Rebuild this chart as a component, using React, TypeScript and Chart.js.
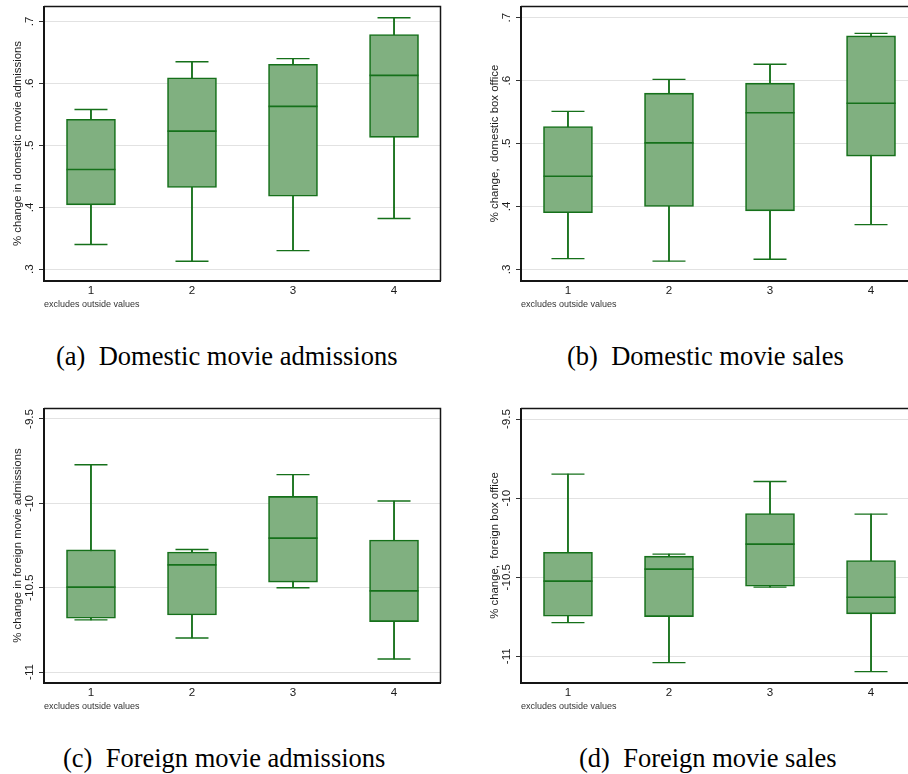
import React, { useEffect, useRef } from "react";
import { Chart, registerables } from "chart.js";

Chart.register(...registerables);

// ---------- data ----------
const categories = [1, 2, 3, 4];

// (a) Domestic movie admissions
const domAdmLow = [0.34, 0.313, 0.33, 0.382];
const domAdmQ1 = [0.404, 0.432, 0.418, 0.513];
const domAdmMed = [0.461, 0.523, 0.563, 0.613];
const domAdmQ3 = [0.542, 0.609, 0.631, 0.679];
const domAdmHigh = [0.558, 0.635, 0.64, 0.706];

// (b) Domestic movie sales
const domSalesLow = [0.317, 0.313, 0.316, 0.371];
const domSalesQ1 = [0.39, 0.4, 0.393, 0.48];
const domSalesMed = [0.448, 0.501, 0.549, 0.564];
const domSalesQ3 = [0.527, 0.58, 0.596, 0.671];
const domSalesHigh = [0.551, 0.602, 0.626, 0.675];

// (c) Foreign movie admissions
const forAdmLow = [-10.691, -10.798, -10.5, -10.923];
const forAdmQ1 = [-10.681, -10.662, -10.467, -10.701];
const forAdmMed = [-10.497, -10.365, -10.206, -10.519];
const forAdmQ3 = [-10.276, -10.289, -9.959, -10.218];
const forAdmHigh = [-9.771, -10.274, -9.83, -9.986];

// (d) Foreign movie sales
const forSalesLow = [-10.787, -11.04, -10.563, -11.097];
const forSalesQ1 = [-10.747, -10.749, -10.557, -10.732];
const forSalesMed = [-10.525, -10.449, -10.291, -10.627];
const forSalesQ3 = [-10.342, -10.367, -10.097, -10.395];
const forSalesHigh = [-9.848, -10.354, -9.895, -10.101];

const domTickValues = [0.3, 0.4, 0.5, 0.6, 0.7];
const domTickLabels = [".3", ".4", ".5", ".6", ".7"];
const forTickValues = [-11, -10.5, -10, -9.5];
const forTickLabels = ["-11", "-10.5", "-10", "-9.5"];

const xNote = "excludes outside values";

// ---------- style ----------
const LINE = "#15701a";
const FILL = "#80b080";
const SANS = "'Liberation Sans', Arial, sans-serif";
const SERIF = "'Liberation Serif', 'Times New Roman', serif";

const framePlugin = {
  id: "frame",
  afterDraw(chart: any) {
    const { ctx, chartArea } = chart;
    const { left, top, right, bottom } = chartArea;
    ctx.save();
    ctx.strokeStyle = "#151515";
    ctx.lineWidth = 1.5;
    ctx.beginPath();
    ctx.moveTo(left, top + 0.5);
    ctx.lineTo(right - 0.5, top + 0.5);
    ctx.lineTo(right - 0.5, bottom);
    ctx.stroke();
    ctx.lineWidth = 2;
    ctx.beginPath();
    ctx.moveTo(left, top);
    ctx.lineTo(left, bottom);
    ctx.lineTo(right, bottom);
    ctx.stroke();
    ctx.restore();
  },
};

type PanelProps = {
  left: number;
  top: number;
  yTitle: string;
  low: number[];
  q1: number[];
  med: number[];
  q3: number[];
  high: number[];
  yMin: number;
  yMax: number;
  tickValues: number[];
  tickLabels: string[];
  tickPad: number;
};

function BoxPanel(p: PanelProps) {
  const ref = useRef<HTMLCanvasElement>(null);
  useEffect(() => {
    if (!ref.current) return;
    const chart = new Chart(ref.current, {
      type: "bar",
      data: {
        datasets: [
          {
            type: "bar",
            label: "whiskers",
            data: categories.map((c, i) => ({ x: c, y: [p.low[i], p.high[i]] })),
            backgroundColor: LINE,
            borderWidth: 0,
            barThickness: 1.2,
            grouped: false,
            order: 4,
          } as any,
          {
            type: "bar",
            label: "boxes",
            data: categories.map((c, i) => ({ x: c, y: [p.q1[i], p.q3[i]] })),
            backgroundColor: FILL,
            borderColor: LINE,
            borderWidth: 1.6,
            borderSkipped: false,
            barThickness: 49,
            grouped: false,
            order: 3,
          } as any,
          {
            type: "line",
            label: "medians",
            data: categories.map((c, i) => ({ x: c, y: p.med[i] })),
            showLine: false,
            pointStyle: "line",
            pointRadius: 24.5,
            pointBorderWidth: 1.6,
            pointBorderColor: LINE,
            pointBackgroundColor: LINE,
            order: 2,
          } as any,
          {
            type: "line",
            label: "caps",
            data: [
              ...categories.map((c, i) => ({ x: c, y: p.high[i] })),
              ...categories.map((c, i) => ({ x: c, y: p.low[i] })),
            ],
            showLine: false,
            pointStyle: "line",
            pointRadius: 16.5,
            pointBorderWidth: 1.4,
            pointBorderColor: LINE,
            pointBackgroundColor: LINE,
            order: 1,
          } as any,
        ],
      },
      options: {
        responsive: false,
        animation: false,
        events: [],
        layout: { autoPadding: false, padding: { top: 6, right: 9, left: 0, bottom: 0 } },
        plugins: { legend: { display: false }, tooltip: { enabled: false } },
        scales: {
          x: {
            type: "linear",
            offset: false,
            min: 0.535,
            max: 4.465,
            afterBuildTicks: (s: any) => {
              s.ticks = categories.map((v) => ({ value: v }));
            },
            ticks: {
              callback: (v: any) => String(v),
              font: { family: SANS, size: 11.6 },
              color: "#1a1a1a",
              padding: 3,
              maxRotation: 0,
              autoSkip: false,
            },
            grid: { display: false, drawTicks: false, offset: false },
            border: { display: false },
            title: {
              display: true,
              text: xNote,
              align: "start",
              font: { family: SANS, size: 9 },
              color: "#333",
              padding: { top: 0, bottom: 10 },
            },
            afterFit: (s: any) => {
              s.height = 39;
              s.paddingLeft = 0;
              s.paddingRight = 0;
            },
          } as any,
          y: {
            type: "linear",
            min: p.yMin,
            max: p.yMax,
            afterBuildTicks: (s: any) => {
              s.ticks = p.tickValues.map((v) => ({ value: v }));
            },
            ticks: {
              callback: (_v: any, i: number) => p.tickLabels[i],
              minRotation: 90,
              maxRotation: 90,
              crossAlign: "center",
              padding: p.tickPad,
              font: { family: SANS, size: 11.6 },
              color: "#1a1a1a",
              autoSkip: false,
            },
            grid: {
              color: "#e2e2e2",
              lineWidth: 1,
              tickLength: 5,
              tickColor: "#333",
              drawTicks: true,
            },
            border: { display: false },
            title: {
              display: true,
              text: p.yTitle,
              font: { family: SANS, size: 11.4 },
              color: "#1a1a1a",
              padding: { top: 11, bottom: 0 },
            },
            afterFit: (s: any) => {
              s.width = 44;
              s.paddingTop = 0;
              s.paddingBottom = 0;
            },
          } as any,
        },
      },
      plugins: [framePlugin],
    } as any);
    return () => chart.destroy();
  }, []);
  return (
    <canvas
      ref={ref}
      width={450}
      height={320}
      style={{ position: "absolute", left: p.left, top: p.top, display: "block" }}
    />
  );
}

const captionStyle: React.CSSProperties = {
  position: "absolute",
  fontFamily: SERIF,
  fontSize: 26.5,
  lineHeight: "30px",
  whiteSpace: "pre",
  color: "#000",
};

export default function App() {
  return (
    <div
      style={{
        position: "absolute",
        left: 0,
        top: 0,
        width: 908,
        height: 774,
        overflow: "hidden",
        background: "#fff",
      }}
    >
      <BoxPanel
        left={0}
        top={0}
        yTitle="% change in domestic movie admissions"
        low={domAdmLow}
        q1={domAdmQ1}
        med={domAdmMed}
        q3={domAdmQ3}
        high={domAdmHigh}
        yMin={0.281}
        yMax={0.725}
        tickValues={domTickValues}
        tickLabels={domTickLabels}
        tickPad={4}
      />
      <BoxPanel
        left={477}
        top={0}
        yTitle="% change,  domestic box office"
        low={domSalesLow}
        q1={domSalesQ1}
        med={domSalesMed}
        q3={domSalesQ3}
        high={domSalesHigh}
        yMin={0.2814}
        yMax={0.7186}
        tickValues={domTickValues}
        tickLabels={domTickLabels}
        tickPad={4}
      />
      <BoxPanel
        left={0}
        top={402}
        yTitle="% change in foreign movie admissions"
        low={forAdmLow}
        q1={forAdmQ1}
        med={forAdmMed}
        q3={forAdmQ3}
        high={forAdmHigh}
        yMin={-11.065}
        yMax={-9.435}
        tickValues={forTickValues}
        tickLabels={forTickLabels}
        tickPad={-4}
      />
      <BoxPanel
        left={477}
        top={402}
        yTitle="% change,  foreign box office"
        low={forSalesLow}
        q1={forSalesQ1}
        med={forSalesMed}
        q3={forSalesQ3}
        high={forSalesHigh}
        yMin={-11.169}
        yMax={-9.43}
        tickValues={forTickValues}
        tickLabels={forTickLabels}
        tickPad={-4}
      />
      <div style={{ ...captionStyle, left: 56, top: 341 }}>(a)  Domestic movie admissions</div>
      <div style={{ ...captionStyle, left: 567, top: 341 }}>(b)  Domestic movie sales</div>
      <div style={{ ...captionStyle, left: 63, top: 743 }}>(c)  Foreign movie admissions</div>
      <div style={{ ...captionStyle, left: 579, top: 743 }}>(d)  Foreign movie sales</div>
    </div>
  );
}
